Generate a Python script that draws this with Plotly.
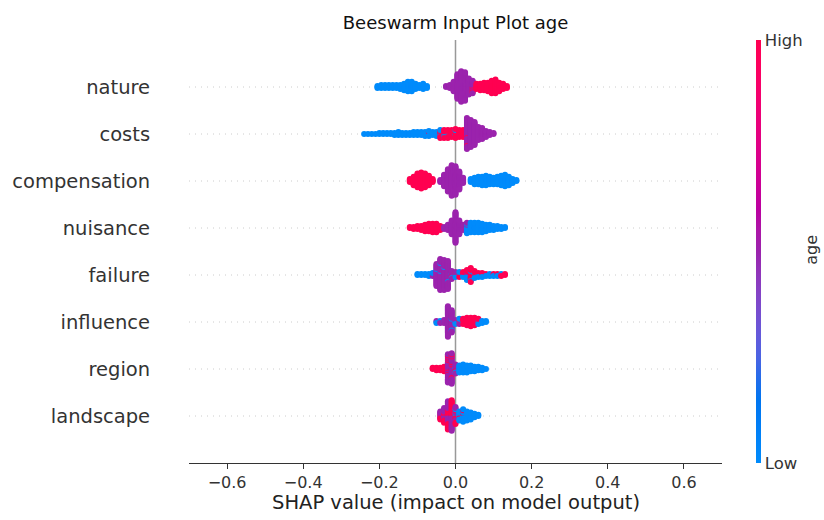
import math
import plotly.graph_objects as go

# ---------------- data ----------------
features = ["nature", "costs", "compensation", "nuisance",
            "failure", "influence", "region", "landscape"]

x_tick_vals = [-0.6, -0.4, -0.2, 0.0, 0.2, 0.4, 0.6]
x_tick_text = ["\u22120.6", "\u22120.4", "\u22120.2", "0.0", "0.2", "0.4", "0.6"]

# SHAP value bins and number of points in each bin, split by age
# (low age = blue, middle = purple, high = red)
nature_x = [-0.205, -0.195, -0.185, -0.175, -0.165, -0.155, -0.145, -0.135, -0.125, -0.115,
            -0.105, -0.095, -0.085, -0.075, -0.025, -0.015, -0.005, 0.005, 0.015, 0.025,
            0.035, 0.045, 0.055, 0.065, 0.075, 0.085, 0.095, 0.105, 0.115, 0.125, 0.135]
nature_low = [3, 4, 4, 4, 4, 4, 5, 7, 10, 10, 6, 4, 6, 3, 0, 0, 0, 0, 0, 0,
              0, 0, 0, 0, 0, 0, 0, 0, 0, 0, 0]
nature_mid = [0, 0, 0, 0, 0, 0, 0, 0, 0, 0, 0, 0, 0, 0, 2, 4, 10, 24, 30, 28,
              16, 10, 0, 0, 0, 0, 0, 0, 0, 0, 0]
nature_high = [0, 0, 0, 0, 0, 0, 0, 0, 0, 0, 0, 0, 0, 0, 0, 0, 0, 0, 0, 0,
               0, 3, 6, 7, 8, 9, 13, 14, 9, 6, 3]

costs_x = [-0.24, -0.23, -0.22, -0.21, -0.20, -0.19, -0.18, -0.17, -0.16, -0.15,
           -0.14, -0.13, -0.12, -0.11, -0.10, -0.09, -0.08, -0.07, -0.06, -0.05,
           -0.04, -0.03, -0.02, -0.01, 0.00, 0.01, 0.02, 0.03, 0.04, 0.05,
           0.06, 0.07, 0.08, 0.09, 0.10]
costs_low = [1, 1, 1, 1, 2, 2, 2, 2, 3, 4, 3, 3, 3, 4, 4, 4, 5, 5, 4, 5,
             3, 2, 1, 0, 2, 0, 0, 0, 0, 0, 0, 0, 0, 0, 0]
costs_mid = [0, 0, 0, 0, 0, 0, 0, 0, 0, 0, 0, 0, 0, 0, 0, 0, 0, 0, 0, 0,
             0, 0, 0, 0, 0, 0, 0, 30, 28, 24, 14, 12, 7, 4, 2]
costs_high = [0, 0, 0, 0, 0, 0, 0, 0, 0, 0, 0, 0, 0, 0, 0, 0, 0, 1, 0, 0,
              6, 7, 8, 8, 8, 8, 8, 2, 0, 0, 0, 0, 0, 0, 0]

compensation_x = [-0.12, -0.11, -0.10, -0.09, -0.08, -0.07, -0.06, -0.04, -0.03, -0.02,
                  -0.01, 0.00, 0.01, 0.02, 0.04, 0.05, 0.06, 0.07, 0.08, 0.09,
                  0.10, 0.11, 0.12, 0.13, 0.14, 0.15, 0.16]
compensation_low = [0, 0, 0, 0, 0, 0, 0, 0, 0, 0, 0, 0, 0, 0, 4, 7, 8, 9, 10, 8,
                    7, 8, 10, 12, 9, 5, 2]
compensation_mid = [0, 0, 0, 0, 0, 0, 0, 3, 12, 22, 30, 28, 18, 6, 0, 0, 0, 0, 0, 0,
                    0, 0, 0, 0, 0, 0, 0]
compensation_high = [4, 9, 14, 16, 14, 10, 4, 0, 0, 0, 0, 0, 0, 0, 0, 0, 0, 0, 0, 0,
                     0, 0, 0, 0, 0, 0, 0]

nuisance_x = [-0.12, -0.11, -0.10, -0.09, -0.08, -0.07, -0.06, -0.05, -0.04, -0.03,
              -0.02, -0.01, 0.00, 0.01, 0.02, 0.03, 0.04, 0.05, 0.06, 0.07,
              0.08, 0.09, 0.10, 0.11, 0.12, 0.13]
nuisance_low = [0, 0, 0, 0, 0, 0, 0, 0, 0, 0, 0, 0, 0, 0, 0, 8, 10, 10, 10, 9,
                7, 6, 5, 4, 3, 2]
nuisance_mid = [0, 0, 0, 0, 0, 0, 0, 0, 0, 3, 6, 14, 30, 14, 6, 3, 0, 0, 0, 0,
                0, 0, 0, 0, 0, 0]
nuisance_high = [2, 3, 4, 5, 7, 8, 9, 9, 5, 0, 0, 0, 0, 0, 0, 0, 0, 0, 0, 0,
                 0, 0, 0, 0, 0, 0]

failure_x = [-0.10, -0.09, -0.08, -0.07, -0.06, -0.05, -0.04, -0.03, -0.02, -0.01,
             0.00, 0.01, 0.02, 0.03, 0.04, 0.05, 0.06, 0.07, 0.08, 0.09,
             0.10, 0.11, 0.12, 0.13]
failure_low = [2, 2, 2, 3, 3, 1, 2, 1, 1, 2, 2, 3, 3, 6, 3, 3, 3, 3, 2, 3,
               2, 2, 1, 0]
failure_mid = [0, 0, 0, 0, 1, 22, 30, 30, 28, 6, 3, 1, 0, 1, 0, 0, 0, 0, 0, 0,
               0, 0, 0, 0]
failure_high = [0, 0, 0, 0, 0, 0, 0, 0, 0, 1, 1, 2, 3, 4, 12, 5, 2, 2, 1, 0,
                1, 1, 2, 2]

influence_x = [-0.05, -0.04, -0.03, -0.02, -0.01, 0.00, 0.01, 0.02, 0.03, 0.04,
               0.05, 0.06, 0.07, 0.08]
influence_low = [2, 1, 1, 0, 2, 3, 3, 1, 0, 0, 0, 2, 3, 2]
influence_mid = [1, 2, 3, 30, 20, 2, 2, 0, 0, 0, 0, 0, 0, 0]
influence_high = [0, 0, 0, 0, 0, 0, 1, 5, 8, 9, 8, 4, 0, 0]

region_x = [-0.06, -0.05, -0.04, -0.03, -0.02, -0.01, 0.00, 0.01, 0.02, 0.03,
            0.04, 0.05, 0.06, 0.07, 0.08]
region_low = [0, 0, 0, 0, 0, 0, 2, 7, 8, 7, 6, 5, 4, 3, 1]
region_mid = [0, 0, 0, 1, 20, 22, 6, 0, 0, 0, 0, 0, 0, 0, 0]
region_high = [2, 3, 3, 4, 6, 6, 1, 0, 0, 0, 0, 0, 0, 0, 0]

landscape_x = [-0.04, -0.03, -0.02, -0.01, 0.00, 0.01, 0.02, 0.03, 0.04, 0.05, 0.06]
landscape_low = [0, 0, 0, 0, 2, 8, 10, 9, 7, 4, 2]
landscape_mid = [5, 8, 14, 14, 8, 0, 0, 0, 0, 0, 0]
landscape_high = [3, 6, 12, 14, 6, 1, 2, 0, 0, 0, 0]

AGE_LOW, AGE_MID, AGE_HIGH = 0.0, 0.5, 1.0   # normalised feature value

rows = {
    "nature": (nature_x, nature_low, nature_mid, nature_high),
    "costs": (costs_x, costs_low, costs_mid, costs_high),
    "compensation": (compensation_x, compensation_low, compensation_mid, compensation_high),
    "nuisance": (nuisance_x, nuisance_low, nuisance_mid, nuisance_high),
    "failure": (failure_x, failure_low, failure_mid, failure_high),
    "influence": (influence_x, influence_low, influence_mid, influence_high),
    "region": (region_x, region_low, region_mid, region_high),
    "landscape": (landscape_x, landscape_low, landscape_mid, landscape_high),
}


# ---------------- SHAP red_blue colour map (LCH interpolation) ----------------
def lch_to_rgb(L, C, h):
    a = C * math.cos(h)
    b = C * math.sin(h)
    fy = (L + 16) / 116
    fx = fy + a / 500
    fz = fy - b / 200

    def finv(t):
        return t ** 3 if t > 6 / 29 else 3 * (6 / 29) ** 2 * (t - 4 / 29)

    X = 0.95047 * finv(fx)
    Y = finv(fy)
    Z = 1.08883 * finv(fz)
    r = 3.2404542 * X - 1.5371385 * Y - 0.4985314 * Z
    g = -0.9692660 * X + 1.8760108 * Y + 0.0415560 * Z
    bb = 0.0556434 * X - 0.2040259 * Y + 1.0572252 * Z

    def gam(c):
        c = c * 12.92 if c <= 0.0031308 else 1.055 * (max(c, 0) ** (1 / 2.4)) - 0.055
        return int(round(255 * min(1, max(0, c))))

    return "rgb(%d,%d,%d)" % (gam(r), gam(g), gam(bb))


blue_lch = (54.0, 70.0, 4.6588)
red_lch = (54.0, 90.0, 0.35470565 + 2 * math.pi)
l_mid = 40.0
colorscale = []
nstops = 21
for k in range(nstops):
    t = k / (nstops - 1)
    if t <= 0.5:
        L = blue_lch[0] + (l_mid - blue_lch[0]) * (t / 0.5)
    else:
        L = l_mid + (red_lch[0] - l_mid) * ((t - 0.5) / 0.5)
    C = blue_lch[1] + (red_lch[1] - blue_lch[1]) * t
    H = blue_lch[2] + (red_lch[2] - blue_lch[2]) * t
    colorscale.append([t, lch_to_rgb(L, C, H)])

# ---------------- beeswarm layout (SHAP style stacking) ----------------
xs, ys, cs = [], [], []
n_feat = len(features)
row_height = 0.4
for i, f in enumerate(features):
    row = n_feat - 1 - i
    bx, lo, mi, hi = rows[f]
    cols = []
    for j, x in enumerate(bx):
        pts = []
        for order, (val, n) in enumerate(((AGE_LOW, lo[j]), (AGE_MID, mi[j]), (AGE_HIGH, hi[j]))):
            pts += [((k + 0.5) / n, order, val) for k in range(n)]
        pts.sort()
        offs = []
        for layer in range(len(pts)):
            offs.append(math.ceil(layer / 2) * ((layer % 2) * 2 - 1))
        cols.append((x, offs, [p[2] for p in pts]))
    max_off = max(max(o) if o else 0 for _, o, _ in cols)
    scale = 0.9 * row_height / (max_off + 1)
    for x, offs, vals in cols:
        for o, v in zip(offs, vals):
            xs.append(x)
            ys.append(row + o * scale)
            cs.append(v)

fig = go.Figure()
fig.add_trace(go.Scatter(
    x=xs, y=ys, mode="markers",
    marker=dict(
        size=6, color=cs, colorscale=colorscale, cmin=0, cmax=1,
        line=dict(width=0), opacity=1,
        colorbar=dict(
            thickness=5, lenmode="fraction", len=1.0, y=0.5, yanchor="middle", ypad=0,
            x=1.0636, xanchor="left", xpad=0, outlinewidth=0,
            tickvals=[0, 1], ticktext=["Low", "High"], ticks="",
            tickfont=dict(size=16.5, color="#333333", family="DejaVu Sans"),
        ),
    ),
    hoverinfo="skip", showlegend=False,
))

shapes = [dict(type="line", xref="x", yref="paper", x0=0, x1=0, y0=0, y1=1,
               line=dict(color="#999999", width=1.5), layer="below")]
for r in range(n_feat):
    shapes.append(dict(type="line", xref="paper", yref="y", x0=0, x1=1, y0=r, y1=r,
                       line=dict(color="#cccccc", width=1, dash="1px,5px"), layer="below"))

fig.update_layout(
    width=824, height=520,
    margin=dict(l=187, r=102, t=40, b=57),
    plot_bgcolor="white", paper_bgcolor="white",
    font=dict(family="DejaVu Sans", color="#333333"),
    title=dict(text="Beeswarm Input Plot age", x=0.5, xref="paper", xanchor="center",
               y=1 - 23 / 520, yref="container", yanchor="middle",
               font=dict(size=18, color="#111111", family="DejaVu Sans")),
    shapes=shapes,
    annotations=[
        dict(text="SHAP value (impact on model output)", xref="paper", yref="paper",
             x=0.5, y=-40 / 423, xanchor="center", yanchor="middle", showarrow=False,
             font=dict(size=19.5, color="#222222", family="DejaVu Sans")),
        dict(text="age", xref="paper", yref="paper", x=(811 - 187) / 535, y=0.5035,
             xanchor="center", yanchor="middle", textangle=-90, showarrow=False,
             font=dict(size=16, color="#333333", family="DejaVu Sans")),
    ],
)
fig.update_xaxes(range=[-0.7, 0.7], tickvals=x_tick_vals, ticktext=x_tick_text,
                 showline=True, linecolor="#333333", linewidth=1.2,
                 ticks="outside", ticklen=5, tickwidth=1.2, tickcolor="#333333",
                 tickfont=dict(size=16, color="#333333"),
                 showgrid=False, zeroline=False, fixedrange=True)
fig.update_yaxes(range=[-1, n_feat], tickvals=list(range(n_feat)),
                 ticktext=list(reversed(features)),
                 ticks="outside", ticklen=34, tickcolor="rgba(0,0,0,0)",
                 tickfont=dict(size=19.5, color="#333333"),
                 showline=False, showgrid=False, zeroline=False, fixedrange=True)

fig.write_html("out.html")
